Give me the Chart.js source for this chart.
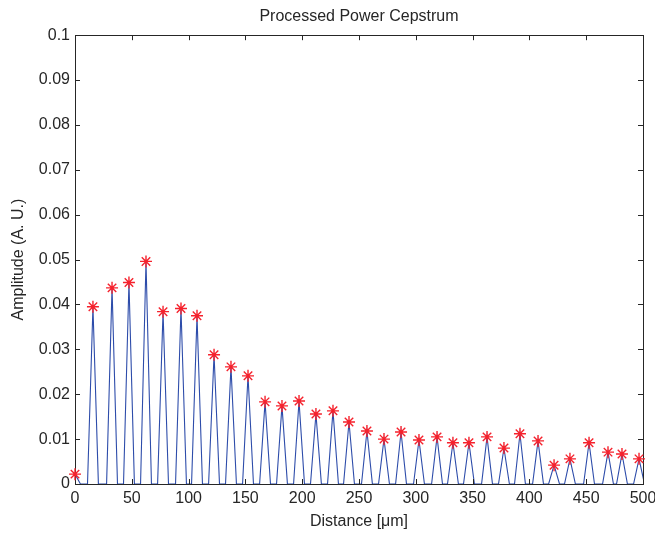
<!DOCTYPE html>
<html>
<head>
    <meta charset="UTF-8">
    <title>Processed Power Cepstrum</title>
    <script src="https://cdn.jsdelivr.net/npm/chart.js"></script>
    <style>
        body { margin: 0; background: #fff; }
        #wrap { width: 655px; height: 535px; }
    </style>
</head>
<body>
    <div id="wrap"><canvas id="myChart" width="655" height="535"></canvas></div>
    <script>
        // peak positions (distance, um) and amplitudes
        const peakX = [0, 15.8, 32.6, 47.5, 62.5, 77.5, 93.3, 107.4, 122.4, 137.3,
            152.3, 167.3, 182.2, 197.2, 212.1, 227.1, 241.2, 257, 272, 287,
            302.8, 318.7, 332.7, 346.8, 362.7, 377.6, 391.7, 407.6, 421.7, 435.7,
            452.5, 469.2, 481.5, 496.5];
        const peakY = [0.0022, 0.0395, 0.0437, 0.0449, 0.0496, 0.0384, 0.0391, 0.0375, 0.0288, 0.0261,
            0.0241, 0.0183, 0.0174, 0.0185, 0.0156, 0.0163, 0.0138, 0.0118, 0.0100, 0.0116,
            0.0098, 0.0105, 0.0092, 0.0092, 0.0105, 0.0080, 0.0112, 0.0096, 0.0042, 0.0056,
            0.0092, 0.0071, 0.0067, 0.0056];
        // each peak drops back to zero about this far either side
        const baseHalfWidth = 4.8;
        const xTicks = [0, 50, 100, 150, 200, 250, 300, 350, 400, 450, 500];
        const yTicks = [0, 0.01, 0.02, 0.03, 0.04, 0.05, 0.06, 0.07, 0.08, 0.09, 0.1];

        const linePts = [];
        peakX.forEach((x, i) => {
            if (x - baseHalfWidth > 0) linePts.push({ x: x - baseHalfWidth, y: 0 });
            linePts.push({ x: x, y: peakY[i] });
            linePts.push({ x: x + baseHalfWidth, y: 0 });
        });
        const peakPts = peakX.map((x, i) => ({ x: x, y: peakY[i] }));

        const textColor = '#262626';
        const fontFamily = "'Liberation Sans', Arial, Helvetica, sans-serif";

        // MATLAB style box with inward ticks on all four sides
        const boxPlugin = {
            id: 'box',
            afterDatasetDraw(chart, args) {
                if (args.index !== 1) return;
                const { ctx, chartArea: a } = chart;
                const xs = chart.scales.x, ys = chart.scales.y;
                ctx.save();
                ctx.strokeStyle = '#262626';
                ctx.lineWidth = 1;
                ctx.beginPath();
                xTicks.forEach(v => {
                    const p = Math.round(xs.getPixelForValue(v)) + 0.5;
                    ctx.moveTo(p, a.bottom); ctx.lineTo(p, a.bottom - 5);
                    ctx.moveTo(p, a.top); ctx.lineTo(p, a.top + 5);
                });
                yTicks.forEach(v => {
                    const p = Math.round(ys.getPixelForValue(v)) + 0.5;
                    ctx.moveTo(a.left, p); ctx.lineTo(a.left + 5, p);
                    ctx.moveTo(a.right, p); ctx.lineTo(a.right - 5, p);
                });
                ctx.stroke();
                ctx.strokeRect(Math.round(a.left) + 0.5, Math.round(a.top) + 0.5,
                    Math.round(a.right - a.left), Math.round(a.bottom - a.top));
                ctx.restore();
            }
        };

        const ctx = document.getElementById('myChart').getContext('2d');
        const chart = new Chart(ctx, {
            type: 'scatter',
            data: {
                datasets: [{
                    label: 'Peaks',
                    data: peakPts,
                    pointStyle: 'star',
                    pointRadius: 6,
                    borderColor: '#f5222d',
                    backgroundColor: '#f5222d',
                    pointBorderWidth: 1.4,
                    clip: false,
                    order: 1
                }, {
                    label: 'Cepstrum',
                    data: linePts,
                    showLine: true,
                    pointRadius: 0,
                    borderColor: '#2d4caa',
                    borderWidth: 1.1,
                    tension: 0,
                    order: 2
                }]
            },
            options: {
                responsive: false,
                animation: false,
                layout: { padding: { right: 12, top: 0, bottom: 0, left: 0 } },
                scales: {
                    x: {
                        type: 'linear',
                        min: 0,
                        max: 500,
                        afterBuildTicks: s => { s.ticks = xTicks.map(v => ({ value: v })); },
                        afterFit: s => { s.height = 51; s.paddingLeft = 0; s.paddingRight = 0; },
                        grid: { display: false, drawTicks: false },
                        border: { display: false },
                        ticks: {
                            color: textColor,
                            padding: 5,
                            maxRotation: 0,
                            font: { family: fontFamily, size: 16 }
                        },
                        title: {
                            display: true,
                            text: 'Distance [\u03bcm]',
                            color: textColor,
                            padding: { top: 0, bottom: 4 },
                            font: { family: fontFamily, size: 16 }
                        }
                    },
                    y: {
                        min: 0,
                        max: 0.1,
                        afterBuildTicks: s => { s.ticks = yTicks.map(v => ({ value: v })); },
                        afterFit: s => { s.width = 75; },
                        grid: { display: false, drawTicks: false },
                        border: { display: false },
                        ticks: {
                            color: textColor,
                            padding: 5,
                            font: { family: fontFamily, size: 16 },
                            callback: v => String(Math.round(v * 100) / 100)
                        },
                        title: {
                            display: true,
                            text: 'Amplitude (A. U.)',
                            color: textColor,
                            padding: { top: 9, bottom: 0 },
                            font: { family: fontFamily, size: 16 }
                        }
                    }
                },
                plugins: {
                    legend: { display: false },
                    tooltip: { enabled: false },
                    title: {
                        display: true,
                        text: 'Processed Power Cepstrum',
                        color: textColor,
                        fullSize: false,
                        padding: { top: 7, bottom: 9 },
                        font: { family: fontFamily, size: 16, weight: 'normal' }
                    }
                }
            },
            plugins: [boxPlugin]
        });
    </script>
</body>
</html>
